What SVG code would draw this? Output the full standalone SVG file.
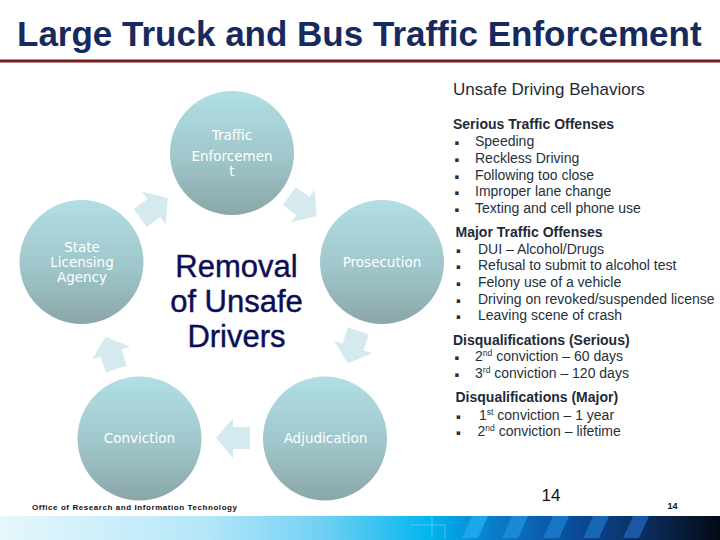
<svg xmlns="http://www.w3.org/2000/svg" width="720" height="540" viewBox="0 0 720 540">
<defs>
<linearGradient id="cg" x1="0" y1="0" x2="0" y2="1">
<stop offset="0" stop-color="#b1dfe4"/>
<stop offset="0.55" stop-color="#9fc6ca"/>
<stop offset="1" stop-color="#8aa6a8"/>
</linearGradient>
<linearGradient id="band" gradientUnits="userSpaceOnUse" x1="0" y1="0" x2="720" y2="0">
<stop offset="0" stop-color="#e6f7fc"/>
<stop offset="0.28" stop-color="#b6e7f8"/>
<stop offset="0.45" stop-color="#6fd0f3"/>
<stop offset="0.6" stop-color="#00b4ee"/>
<stop offset="0.68" stop-color="#0a7fcc"/>
<stop offset="0.8" stop-color="#0a4a98"/>
<stop offset="0.9" stop-color="#0a2c5c"/>
<stop offset="1" stop-color="#040a14"/>
</linearGradient>
<path id="arr" d="M -17,-11 L 0,-11 L 0,-20 L 17,0 L 0,20 L 0,11 L -17,11 Z"/>
<style>
.node circle{fill:url(#cg);}
.lbl{font-family:"DejaVu Sans",Verdana,sans-serif;font-size:13.5px;fill:#ffffff;text-anchor:middle;}
.arrow{fill:#d5eaee;}
.rt{font-family:"Liberation Sans",Arial,sans-serif;font-size:14px;fill:#26303c;}
.hd{font-family:"Liberation Sans",Arial,sans-serif;font-size:14px;font-weight:bold;fill:#1e2a38;}
.bul{font-family:"DejaVu Sans",sans-serif;font-size:7px;fill:#26303c;}
.sup{font-size:8.5px;}
</style>
</defs>
<rect width="720" height="540" fill="#ffffff"/>

<g id="title">
<text x="17" y="45.5" font-family="Liberation Sans, Arial, sans-serif" font-size="35" font-weight="bold" fill="#172a5e">Large Truck and Bus Traffic Enforcement</text>
<rect x="0" y="59.5" width="720" height="3" fill="#7a1c1c"/>
</g>

<g id="connectors">
<use href="#arr" class="arrow" transform="translate(154,208) rotate(-36)"/>
<use href="#arr" class="arrow" transform="translate(303,206) rotate(36)"/>
<use href="#arr" class="arrow" transform="translate(353,347) rotate(108)"/>
<use href="#arr" class="arrow" transform="translate(233,438) rotate(180)"/>
<use href="#arr" class="arrow" transform="translate(111,353) rotate(252)"/>
</g>

<g id="node-traffic" class="node">
<circle cx="232" cy="153" r="62"/>
<text class="lbl" x="232" y="139.5">Traffic</text>
<text class="lbl" x="232" y="160.5">Enforcemen</text>
<text class="lbl" x="232" y="176">t</text>
</g>
<g id="node-prosecution" class="node">
<circle cx="382" cy="262" r="62"/>
<text class="lbl" x="382" y="266.5">Prosecution</text>
</g>
<g id="node-adjudication" class="node">
<circle cx="325" cy="438.5" r="62"/>
<text class="lbl" x="325.5" y="442.5">Adjudication</text>
</g>
<g id="node-conviction" class="node">
<circle cx="139.5" cy="438.5" r="62"/>
<text class="lbl" x="139.5" y="442.5">Conviction</text>
</g>
<g id="node-state" class="node">
<circle cx="81.5" cy="262" r="62"/>
<text class="lbl" x="82" y="251.5">State</text>
<text class="lbl" x="82" y="266.5">Licensing</text>
<text class="lbl" x="82" y="281.5">Agency</text>
</g>

<g id="center" font-family="Liberation Sans, Arial, sans-serif" font-size="31" fill="#0c0d55" text-anchor="middle" stroke="#0c0d55" stroke-width="0.4">
<text x="236.5" y="277">Removal</text>
<text x="236.5" y="312">of Unsafe</text>
<text x="236.5" y="347">Drivers</text>
</g>

<g id="behaviors">
<text x="453" y="95" font-family="Liberation Sans, Arial, sans-serif" font-size="17" fill="#1e2a38">Unsafe Driving Behaviors</text>
<text class="hd" x="453" y="128.5">Serious Traffic Offenses</text>
<text class="bul" x="454.5" y="145">▪</text><text class="rt" x="475" y="146">Speeding</text>
<text class="bul" x="454.5" y="162">▪</text><text class="rt" x="475" y="163">Reckless Driving</text>
<text class="bul" x="454.5" y="178.5">▪</text><text class="rt" x="475" y="179.5">Following too close</text>
<text class="bul" x="454.5" y="195">▪</text><text class="rt" x="475" y="196">Improper lane change</text>
<text class="bul" x="454.5" y="212">▪</text><text class="rt" x="475" y="213">Texting and cell phone use</text>

<text class="hd" x="455.5" y="237">Major Traffic Offenses</text>
<text class="bul" x="456" y="252.5">▪</text><text class="rt" x="478" y="253.5">DUI – Alcohol/Drugs</text>
<text class="bul" x="456" y="269">▪</text><text class="rt" x="478" y="270">Refusal to submit to alcohol test</text>
<text class="bul" x="456" y="286">▪</text><text class="rt" x="478" y="287">Felony use of a vehicle</text>
<text class="bul" x="456" y="302.5">▪</text><text class="rt" x="478" y="303.5">Driving on revoked/suspended license</text>
<text class="bul" x="456" y="319">▪</text><text class="rt" x="478" y="320">Leaving scene of crash</text>

<text class="hd" x="453" y="344.5">Disqualifications (Serious)</text>
<text class="bul" x="454.5" y="360">▪</text><text class="rt" x="475" y="361">2<tspan class="sup" dy="-5">nd</tspan><tspan dy="5"> conviction – 60 days</tspan></text>
<text class="bul" x="454.5" y="376.5">▪</text><text class="rt" x="475" y="377.5">3<tspan class="sup" dy="-5">rd</tspan><tspan dy="5"> conviction – 120 days</tspan></text>

<text class="hd" x="455.5" y="402">Disqualifications (Major)</text>
<text class="bul" x="456" y="418.5">▪</text><text class="rt" x="479" y="419.5">1<tspan class="sup" dy="-5">st</tspan><tspan dy="5"> conviction – 1 year</tspan></text>
<text class="bul" x="456" y="435">▪</text><text class="rt" x="477.5" y="436">2<tspan class="sup" dy="-5">nd</tspan><tspan dy="5"> conviction – lifetime</tspan></text>
</g>

<g id="footer">
<text x="541.5" y="500.5" font-family="Liberation Sans, Arial, sans-serif" font-size="17" fill="#111111">14</text>
<text x="32" y="510" font-family="Liberation Sans, Arial, sans-serif" font-size="8" font-weight="bold" fill="#111111" textLength="205" lengthAdjust="spacing">Office of Research and Information Technology</text>
<text x="667.5" y="509" font-family="Liberation Sans, Arial, sans-serif" font-size="9" font-weight="bold" fill="#111111">14</text>
<rect x="0" y="516" width="720" height="24" fill="url(#band)"/>
<path d="M410,525 H445 V538 M432,516 V538" fill="none" stroke="#7fd3f3" stroke-width="1" opacity="0.6"/>
<polygon points="472,516 488,516 478,538 462,538" fill="#1ea6ec"/>
<polygon points="512,516 528,516 518,538 502,538" fill="#1a8ad8"/>
<polygon points="553,516 569,516 559,538 543,538" fill="#1876c6"/>
<polygon points="593,516 609,516 599,538 583,538" fill="#1866b6"/>
<polygon points="633,516 649,516 639,538 623,538" fill="#1a58a4"/>
</g>
</svg>
